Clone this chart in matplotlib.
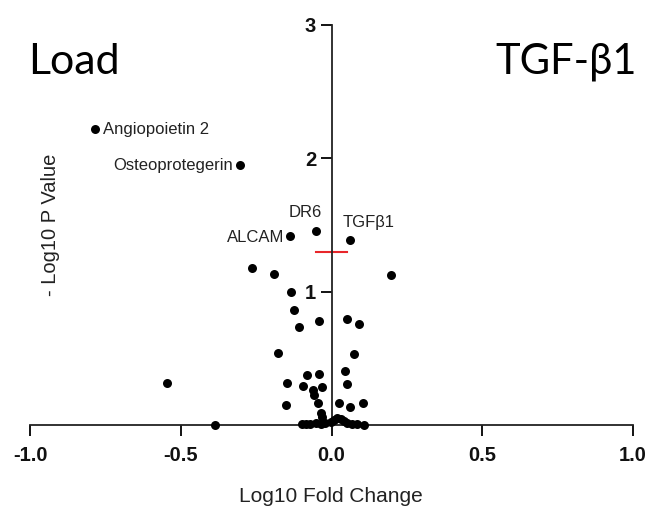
import numpy as np
import matplotlib.pyplot as plt

# log10 fold change / -log10 p value
fold = [-0.786, -0.305, -0.139, -0.050, 0.063, 0.196, -0.265, -0.192, -0.133,
        -0.126, -0.040, -0.109, 0.053, 0.090, -0.176, 0.073, -0.544, -0.385,
        -0.081, -0.041, 0.044, -0.147, -0.095, -0.033, 0.053, -0.061, -0.059,
        -0.045, -0.150, 0.026, 0.063, 0.104, -0.036, -0.031,
        -0.097, -0.086, -0.070, -0.053, -0.036, -0.020, -0.003, 0.008, 0.019,
        0.030, 0.041, 0.052, 0.069, 0.085, 0.107]
pval = [2.217, 1.948, 1.416, 1.453, 1.386, 1.124, 1.176, 1.131, 0.996,
        0.861, 0.779, 0.734, 0.794, 0.757, 0.539, 0.532, 0.315, 0.0,
        0.372, 0.380, 0.402, 0.317, 0.294, 0.282, 0.307, 0.262, 0.225,
        0.163, 0.150, 0.167, 0.135, 0.167, 0.088, 0.062,
        0.007, 0.007, 0.007, 0.012, 0.007, 0.012, 0.025, 0.037, 0.050,
        0.042, 0.032, 0.017, 0.007, 0.007, 0.0]

labels = ['Angiopoietin 2', 'Osteoprotegerin', 'ALCAM', 'DR6', 'TGFβ1']
sig = -np.log10(0.05)

fig = plt.figure(figsize=(6.46, 5.08), dpi=100, facecolor='white')
ax = fig.add_axes([30/646, 83/508, 603/646, 400/508])

ax.scatter(fold, pval, s=42, color='black', zorder=3, clip_on=False, linewidths=0)
ax.plot([-0.05, 0.05], [sig, sig], color='#e8262a', lw=1.5, zorder=2)

# annotations: (text offset in points, alignment)
offs = [((6, 0), 'left', 'center'), ((-5, 0), 'right', 'center'),
        ((-4, -1), 'right', 'center'), ((-8, 8), 'center', 'bottom'),
        ((-6, 7), 'left', 'bottom')]
for i, name in enumerate(labels):
    (dx, dy), ha, va = offs[i]
    ax.annotate(name, (fold[i], pval[i]), xytext=(dx, dy), textcoords='offset points',
                ha=ha, va=va, fontsize=12, family='Liberation Sans', color='#222222')

ax.set_xlim(-1, 1)
ax.set_ylim(0, 3)
ax.spines['top'].set_visible(False)
ax.spines['right'].set_visible(False)
ax.spines['left'].set_position(('data', 0))
ax.spines['bottom'].set_position(('data', 0))
for s in ['left', 'bottom']:
    ax.spines[s].set_linewidth(1.3)
    ax.spines[s].set_color('#222222')

ax.set_xticks([-1.0, -0.5, 0.0, 0.5, 1.0])
ax.set_xticklabels(['-1.0', '-0.5', '0.0', '0.5', '1.0'])
ax.set_yticks([1, 2, 3])
ax.set_yticklabels(['1', '2', '3'])
ax.tick_params(axis='x', direction='out', length=8, width=1.3, pad=7, labelsize=14.5)
ax.tick_params(axis='y', direction='out', length=8, width=1.3, pad=3, labelsize=14.5)
for t in ax.get_xticklabels() + ax.get_yticklabels():
    t.set_fontweight('bold')
    t.set_family('Liberation Sans')
    t.set_color('#111111')

fig.text(331/646, 1 - 496/508, 'Log10 Fold Change', ha='center', va='center',
         fontsize=15, family='Liberation Sans', color='#222222')
fig.text(51/646, 1 - 225/508, '- Log10 P Value', ha='center', va='center', rotation=90,
         fontsize=14.5, family='Liberation Sans', color='#222222')

fig.text(28/646, 1 - 62/508, 'Load', ha='left', va='center', fontsize=31, family='Lato')
fig.text(637/646, 1 - 62/508, 'TGF-β1', ha='right', va='center', fontsize=30, family='Lato')

plt.savefig('out.png', dpi=100)
